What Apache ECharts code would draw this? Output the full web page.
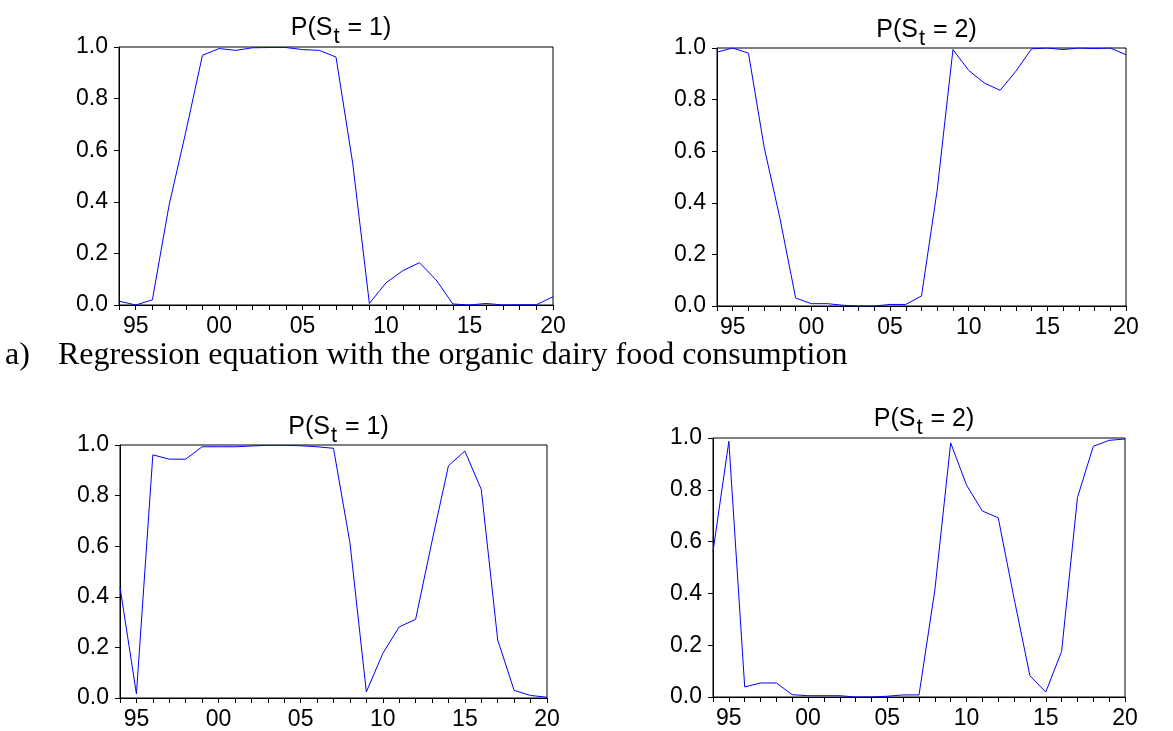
<!DOCTYPE html>
<html>
<head>
<meta charset="utf-8">
<script src="https://cdn.jsdelivr.net/npm/echarts@6/dist/echarts.min.js"></script>
<style>
html,body{margin:0;padding:0;background:#fff;}
#chart{width:1173px;height:731px;}
</style>
</head>
<body>
<div id="chart"></div>
<script>
// ---- data ----
const years = ['1994','1995','1996','1997','1998','1999','2000','2001','2002','2003','2004','2005','2006','2007','2008','2009','2010','2011','2012','2013','2014','2015','2016','2017','2018','2019','2020'];
const labelledYears = ['1995','2000','2005','2010','2015','2020'];
const yTicks = [0.0, 0.2, 0.4, 0.6, 0.8, 1.0];

// a) regression with organic dairy food consumption
const aState1 = [0.015,0.000,0.020,0.387,0.670,0.968,0.994,0.987,0.997,0.998,0.998,0.990,0.987,0.961,0.550,0.006,0.086,0.133,0.164,0.097,0.004,0.000,0.006,0.000,0.001,0.001,0.032];
const aState2 = [0.984,1.000,0.980,0.615,0.340,0.031,0.009,0.009,0.003,0.000,0.000,0.006,0.006,0.039,0.450,0.994,0.913,0.864,0.836,0.910,0.997,1.000,0.994,1.000,0.998,1.000,0.974];
// b) second regression
const bState1 = [0.438,0.016,0.961,0.944,0.944,0.993,0.993,0.993,0.996,0.999,0.999,0.997,0.993,0.987,0.614,0.024,0.176,0.281,0.311,0.620,0.918,0.976,0.824,0.229,0.030,0.010,0.003];
const bState2 = [0.561,0.987,0.039,0.054,0.054,0.009,0.005,0.005,0.005,0.000,0.000,0.003,0.008,0.008,0.413,0.981,0.818,0.718,0.692,0.381,0.082,0.019,0.176,0.770,0.968,0.991,0.996];

const panelTitles = ['1', '2', '1', '2'];
const captionLabel = 'a)';
const captionText = 'Regression equation with the organic dairy food consumption';

// ---- layout ----
const grids = [
  {left: 119, top: 47, width: 434, height: 258},
  {left: 717, top: 48, width: 409, height: 258},
  {left: 120, top: 445, width: 427, height: 255},
  {left: 713, top: 438, width: 412, height: 259}
];
const titleTops = [11, 13, 410, 402];
const seriesData = [aState1, aState2, bState1, bState2];

const tickFont = {fontFamily: 'Liberation Sans, Arial, sans-serif', fontSize: 23, color: '#000'};

const chart = echarts.init(document.getElementById('chart'), null, {renderer: 'canvas'});

const option = {
  backgroundColor: '#fff',
  animation: false,
  title: grids.map((g, i) => ({
    text: '{a|P(S}{b|t}{a| = ' + panelTitles[i] + ')}',
    left: g.left + g.width / 2,
    top: titleTops[i],
    textAlign: 'center',
    textStyle: {
      fontWeight: 'normal',
      rich: {
        a: {fontFamily: 'Liberation Sans, Arial, sans-serif', fontWeight: 'normal', fontSize: 25, color: '#000', lineHeight: 26, verticalAlign: 'top'},
        b: {fontFamily: 'Liberation Sans, Arial, sans-serif', fontWeight: 'normal', fontSize: 22, color: '#000', lineHeight: 23, verticalAlign: 'top', padding: [10, 1, 0, 1]}
      }
    }
  })),
  grid: grids.map(g => Object.assign({show: true, borderColor: '#000', borderWidth: 1, backgroundColor: 'transparent'}, g)),
  xAxis: grids.map((g, i) => ({
    type: 'category',
    gridIndex: i,
    data: years,
    boundaryGap: false,
    axisLine: {show: true, lineStyle: {color: '#000', width: 1}},
    axisTick: {show: true, interval: 0, length: 5, inside: false, lineStyle: {color: '#000'}},
    axisLabel: {
      show: true,
      interval: (idx, val) => labelledYears.indexOf(val) >= 0,
      formatter: v => v.slice(2),
      margin: 10,
      ...tickFont
    },
    splitLine: {show: false}
  })),
  yAxis: grids.map((g, i) => ({
    type: 'value',
    gridIndex: i,
    min: yTicks[0],
    max: yTicks[yTicks.length - 1],
    interval: 0.2,
    axisLine: {show: true, lineStyle: {color: '#000', width: 1}},
    axisTick: {show: true, length: 5, inside: false, lineStyle: {color: '#000'}},
    axisLabel: {formatter: v => v.toFixed(1), margin: 11, ...tickFont},
    splitLine: {show: false}
  })),
  series: seriesData.map((d, i) => ({
    type: 'line',
    xAxisIndex: i,
    yAxisIndex: i,
    data: d,
    showSymbol: false,
    symbol: 'none',
    lineStyle: {color: '#0000ff', width: 1},
    clip: true
  })),
  graphic: [
    {type: 'text', left: 5, top: 340, style: {text: captionLabel, font: '32px "Liberation Serif", "Times New Roman", serif', fill: '#000'}},
    {type: 'text', left: 58, top: 340, style: {text: captionText, font: '32px "Liberation Serif", "Times New Roman", serif', fill: '#000'}}
  ]
};
chart.setOption(option);
</script>
</body>
</html>
